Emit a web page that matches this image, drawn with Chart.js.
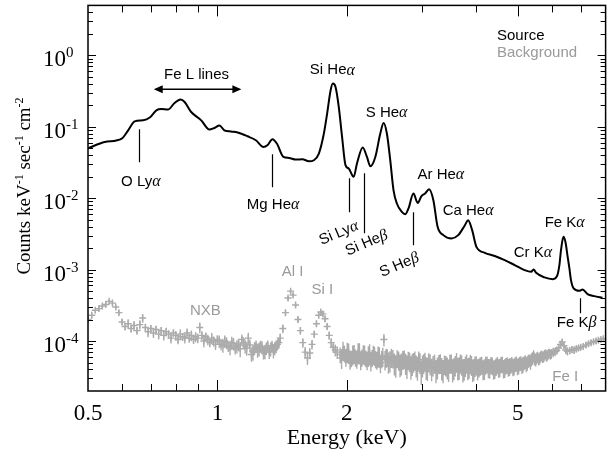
<!DOCTYPE html>
<html>
<head>
<meta charset="utf-8">
<script src="https://cdn.jsdelivr.net/npm/chart.js@4.4.0/dist/chart.umd.min.js"></script>
<style>
  html, body { margin: 0; padding: 0; background: #fff; }
  canvas { display: block; }
</style>
</head>
<body>
<canvas id="spectrum" width="611" height="451"></canvas>
<script>
// Source spectrum (keV, counts keV-1 s-1 cm-2)
const srcEnergy = [
  0.50, 0.547, 0.599, 0.620, 0.642, 0.672, 0.696, 0.721, 0.741, 0.767,
  0.795, 0.821, 0.839, 0.869, 0.917, 0.958, 0.984, 1.011, 1.038, 1.076,
  1.114, 1.175, 1.229, 1.280, 1.307, 1.343, 1.375, 1.424, 1.468, 1.521,
  1.576, 1.633, 1.677, 1.722, 1.769, 1.800, 1.834, 1.856, 1.883, 1.916,
  1.950, 1.986, 2.021, 2.075, 2.112, 2.178, 2.228, 2.269, 2.330, 2.393,
  2.436, 2.479, 2.524, 2.569, 2.615, 2.686, 2.735, 2.783, 2.858, 2.924,
  2.983, 3.042, 3.108, 3.180, 3.253, 3.354, 3.505, 3.633, 3.765, 3.831,
  3.914, 4.005, 4.188, 4.418, 4.659, 4.914, 5.183, 5.370, 5.439, 5.515,
  5.768, 6.029, 6.166, 6.246, 6.300, 6.382, 6.450, 6.529, 6.590, 6.646,
  6.742, 6.949, 7.072, 7.262, 7.527, 7.866
];
const srcCounts = [
  0.050, 0.0613, 0.0684, 0.0893, 0.119, 0.123, 0.1345, 0.170, 0.1774, 0.174,
  0.215, 0.240, 0.222, 0.161, 0.123, 0.0914, 0.0962, 0.104, 0.0893, 0.0857,
  0.083, 0.0736, 0.0648, 0.0522, 0.0551, 0.0669, 0.0582, 0.0378, 0.0366, 0.0348,
  0.0351, 0.0329, 0.034, 0.0422, 0.0804, 0.153, 0.324, 0.402, 0.360, 0.189,
  0.072, 0.029, 0.026, 0.0199, 0.0306, 0.0512, 0.0378, 0.028, 0.0378, 0.0804,
  0.113, 0.0804, 0.034, 0.0129, 0.00843, 0.00643, 0.00597, 0.00718, 0.01164, 0.00859,
  0.01067, 0.01164, 0.01336, 0.00938, 0.00397, 0.00304, 0.00273, 0.00304, 0.00419, 0.00492,
  0.00357, 0.00208, 0.00172, 0.00155, 0.00136, 0.00116, 0.000984, 0.000931, 0.001007, 0.000902,
  0.000778, 0.000736, 0.000811, 0.00116, 0.00187, 0.00288, 0.00245, 0.00151, 0.00104, 0.000713,
  0.000546, 0.000505, 0.000528, 0.000454, 0.000426, 0.000403
];

// Background (NXB) spectrum, counts in units of 1e-4, with relative errors
const bgEnergy = [
  0.50, 0.51, 0.52, 0.53, 0.54, 0.55, 0.56, 0.57, 0.58, 0.59, 0.60,
  0.61, 0.62, 0.63, 0.64, 0.65, 0.66, 0.67, 0.68, 0.69, 0.70,
  0.71, 0.72, 0.73, 0.74, 0.75, 0.76, 0.77, 0.78, 0.79, 0.80,
  0.81, 0.82, 0.83, 0.84, 0.85, 0.86, 0.87, 0.88, 0.89, 0.90,
  0.91, 0.92, 0.93, 0.94, 0.95, 0.96, 0.97, 0.98, 0.99, 1.00,
  1.02, 1.04, 1.06, 1.08, 1.10, 1.12, 1.14, 1.16, 1.18, 1.20,
  1.22, 1.24, 1.26, 1.28, 1.30, 1.32, 1.34, 1.36, 1.38, 1.40,
  1.42, 1.44, 1.46, 1.48, 1.50, 1.52, 1.54, 1.56, 1.58, 1.60,
  1.62, 1.64, 1.66, 1.68, 1.70, 1.72, 1.74, 1.76, 1.78, 1.80,
  1.82, 1.84, 1.86, 1.88, 1.90,
  1.93, 1.96, 1.99, 2.02, 2.05, 2.08, 2.11, 2.14, 2.17, 2.20,
  2.23, 2.26, 2.29, 2.32, 2.35, 2.38, 2.41, 2.44, 2.47, 2.50,
  2.54, 2.58, 2.62, 2.66, 2.70, 2.74, 2.78, 2.82, 2.86, 2.90,
  2.94, 2.98, 3.02, 3.06, 3.10,
  3.15, 3.20, 3.25, 3.30, 3.35, 3.40, 3.45, 3.50, 3.55, 3.60,
  3.65, 3.70, 3.75, 3.80, 3.85, 3.90, 3.95, 4.00,
  4.06, 4.12, 4.18, 4.24, 4.30, 4.36, 4.42, 4.48, 4.54, 4.60,
  4.66, 4.72, 4.78, 4.84, 4.90, 4.96, 5.02, 5.08, 5.14, 5.20,
  5.26, 5.32, 5.38, 5.44, 5.50, 5.56, 5.62, 5.68, 5.74, 5.80,
  5.86, 5.92, 5.98,
  6.04, 6.10, 6.16, 6.22, 6.28, 6.34, 6.40, 6.46, 6.52,
  6.60, 6.68, 6.76, 6.84, 6.92, 7.00,
  7.10, 7.20, 7.30, 7.40, 7.50, 7.60, 7.70, 7.80, 7.90,
  // interleaved bins
  1.01, 1.03, 1.05, 1.07, 1.09, 1.11, 1.13, 1.15, 1.17, 1.19,
  1.21, 1.23, 1.25, 1.27, 1.29, 1.31, 1.33, 1.35, 1.37, 1.39,
  1.945, 1.975, 2.005, 2.035, 2.065, 2.095, 2.125, 2.155, 2.185, 2.215,
  2.245, 2.275, 2.305, 2.335, 2.365, 2.395, 2.425, 2.455, 2.485,
  2.52, 2.56, 2.60, 2.64, 2.68, 2.72, 2.76, 2.80, 2.84, 2.88,
  2.92, 2.96, 3.00, 3.04, 3.08, 3.125,
  3.175, 3.225, 3.275, 3.325, 3.375, 3.425, 3.475, 3.525, 3.575, 3.625,
  3.675, 3.725, 3.775, 3.825, 3.875, 3.925, 3.975, 4.03,
  4.09, 4.15, 4.21, 4.27, 4.33, 4.39, 4.45, 4.51, 4.57, 4.63,
  4.69, 4.75, 4.81, 4.87, 4.93, 4.99, 5.05, 5.11, 5.17, 5.23,
  5.29, 5.35, 5.41, 5.47, 5.53, 5.59, 5.65, 5.71, 5.77, 5.83,
  5.89, 5.95
];
const bgCountsE4 = [
  2.0, 2.3, 2.7, 2.85, 3.1, 3.25, 3.6, 3.4, 3.0, 2.5, 1.85,
  1.6, 1.75, 1.5, 1.65, 1.4, 1.7, 2.1, 1.55, 1.35, 1.5,
  1.3, 1.45, 1.25, 1.4, 1.2, 1.35, 1.25, 1.1, 1.3, 1.2,
  1.05, 1.25, 1.15, 1.1, 1.3, 1.1, 1.2, 1.05, 1.15, 1.1,
  1.55, 1.2, 1.0, 1.15, 1.05, 0.95, 1.1, 1.0, 0.9, 1.05,
  0.9, 1.0, 0.85, 0.95, 0.8, 0.9, 1.05, 0.85, 1.1, 0.65,
  0.8, 0.75, 0.85, 0.7, 0.8, 0.72, 0.85, 0.8, 0.9, 1.1,
  1.5, 2.5, 4.0, 5.0, 4.4, 3.2, 2.0, 1.4, 0.95, 0.7,
  0.58, 0.68, 0.9, 1.25, 1.75, 2.3, 2.55, 2.4, 2.05, 1.6,
  1.2, 0.95, 0.82, 0.75, 0.7,
  0.65, 0.75, 0.6, 0.7, 0.58, 0.68, 0.57, 0.7, 0.6, 0.66,
  0.55, 0.68, 0.59, 0.64, 0.55, 0.62, 0.57, 1.05, 0.6, 0.52,
  0.6, 0.5, 0.58, 0.48, 0.56, 0.5, 0.55, 0.45, 0.52, 0.47,
  0.55, 0.38, 0.5, 0.44, 0.52,
  0.42, 0.5, 0.44, 0.5, 0.4, 0.47, 0.41, 0.5, 0.43, 0.52,
  0.44, 0.48, 0.42, 0.5, 0.44, 0.47, 0.42, 0.47,
  0.44, 0.47, 0.42, 0.48, 0.43, 0.46, 0.42, 0.47, 0.44, 0.48,
  0.43, 0.47, 0.45, 0.48, 0.45, 0.49, 0.46, 0.5, 0.48, 0.52,
  0.5, 0.54, 0.56, 0.63, 0.55, 0.6, 0.58, 0.63, 0.61, 0.66,
  0.64, 0.68, 0.67,
  0.7, 0.71, 0.74, 0.8, 0.9, 0.97, 0.86, 0.75, 0.72,
  0.74, 0.76, 0.75, 0.78, 0.8, 0.82,
  0.84, 0.88, 0.92, 0.95, 0.98, 1.0, 1.03, 1.05, 1.08,
  // interleaved bins
  1.0, 0.88, 0.95, 0.82, 0.92, 0.85, 0.78, 0.95, 0.8, 0.88,
  0.7, 0.85, 0.78, 0.82, 0.72, 0.85, 0.78, 0.74, 0.85, 0.95,
  0.58, 0.68, 0.72, 0.55, 0.66, 0.6, 0.7, 0.55, 0.67, 0.58,
  0.64, 0.52, 0.66, 0.57, 0.63, 0.5, 0.62, 0.56, 0.6,
  0.54, 0.58, 0.47, 0.55, 0.5, 0.57, 0.46, 0.53, 0.49, 0.55,
  0.44, 0.51, 0.47, 0.53, 0.43, 0.49,
  0.47, 0.4, 0.49, 0.43, 0.48, 0.44, 0.5, 0.41, 0.47, 0.43,
  0.5, 0.41, 0.46, 0.43, 0.49, 0.41, 0.46, 0.42,
  0.46, 0.41, 0.47, 0.43, 0.47, 0.41, 0.45, 0.43, 0.48, 0.42,
  0.46, 0.44, 0.46, 0.44, 0.48, 0.45, 0.49, 0.46, 0.5, 0.48,
  0.53, 0.51, 0.58, 0.57, 0.58, 0.56, 0.61, 0.6, 0.64, 0.62,
  0.66, 0.65
];
const bgErr = [
  0.08, 0.09, 0.08, 0.09, 0.08, 0.08, 0.07, 0.08, 0.08, 0.09, 0.10,
  0.12, 0.15, 0.13, 0.16, 0.12, 0.15, 0.14, 0.13, 0.16, 0.12,
  0.15, 0.13, 0.16, 0.12, 0.15, 0.14, 0.13, 0.16, 0.12, 0.15,
  0.14, 0.17, 0.13, 0.16, 0.15, 0.14, 0.17, 0.13, 0.16, 0.15,
  0.17, 0.14, 0.18, 0.15, 0.17, 0.14, 0.18, 0.16, 0.17, 0.15,
  0.18, 0.20, 0.17, 0.21, 0.19, 0.20, 0.18, 0.22, 0.19, 0.21,
  0.20, 0.22, 0.19, 0.21, 0.20, 0.22, 0.19, 0.21, 0.18, 0.16,
  0.14, 0.10, 0.08, 0.07, 0.07, 0.08, 0.10, 0.12, 0.15, 0.18,
  0.20, 0.18, 0.15, 0.12, 0.10, 0.09, 0.08, 0.09, 0.10, 0.11,
  0.13, 0.15, 0.17, 0.19, 0.20,
  0.25, 0.30, 0.27, 0.32, 0.26, 0.30, 0.28, 0.33, 0.27, 0.31,
  0.29, 0.33, 0.27, 0.30, 0.28, 0.32, 0.27, 0.20, 0.30, 0.33,
  0.30, 0.34, 0.28, 0.35, 0.30, 0.33, 0.29, 0.36, 0.31, 0.34,
  0.30, 0.36, 0.31, 0.35, 0.30,
  0.35, 0.30, 0.34, 0.31, 0.36, 0.32, 0.35, 0.30, 0.34, 0.31,
  0.35, 0.32, 0.34, 0.30, 0.33, 0.31, 0.34, 0.30,
  0.30, 0.28, 0.32, 0.27, 0.31, 0.28, 0.30, 0.27, 0.29, 0.26,
  0.29, 0.26, 0.28, 0.25, 0.27, 0.24, 0.26, 0.23, 0.25, 0.22,
  0.23, 0.20, 0.21, 0.18, 0.20, 0.18, 0.19, 0.17, 0.18, 0.16,
  0.17, 0.15, 0.16,
  0.15, 0.14, 0.13, 0.12, 0.11, 0.10, 0.11, 0.12, 0.13,
  0.12, 0.11, 0.12, 0.11, 0.10, 0.10,
  0.10, 0.09, 0.10, 0.09, 0.08, 0.09, 0.08, 0.08, 0.08,
  // interleaved bins
  0.20, 0.22, 0.19, 0.23, 0.20, 0.21, 0.24, 0.19, 0.22, 0.20,
  0.24, 0.20, 0.22, 0.21, 0.23, 0.20, 0.22, 0.23, 0.20, 0.18,
  0.30, 0.26, 0.32, 0.28, 0.31, 0.27, 0.33, 0.29, 0.30, 0.26,
  0.32, 0.28, 0.30, 0.27, 0.33, 0.29, 0.30, 0.31, 0.28,
  0.33, 0.29, 0.35, 0.30, 0.34, 0.29, 0.36, 0.31, 0.34, 0.30,
  0.37, 0.32, 0.34, 0.30, 0.36, 0.33,
  0.32, 0.36, 0.30, 0.35, 0.31, 0.34, 0.30, 0.36, 0.32, 0.35,
  0.30, 0.36, 0.32, 0.34, 0.30, 0.35, 0.32, 0.33,
  0.29, 0.31, 0.28, 0.30, 0.27, 0.30, 0.28, 0.29, 0.26, 0.29,
  0.26, 0.28, 0.25, 0.27, 0.24, 0.26, 0.23, 0.25, 0.22, 0.24,
  0.21, 0.22, 0.20, 0.20, 0.19, 0.19, 0.18, 0.18, 0.17, 0.17,
  0.16, 0.16
];

// tick labels
const xTickLabels = [0.5, 1, 2, 5];
const xMajorTicks = [1, 2, 5];
const xMinorTicks = [0.6, 0.7, 0.8, 0.9, 3, 4, 6, 7];
const yDecades = [0, -1, -2, -3, -4];

// line identification markers: energy, top and bottom of the marker (counts)
const markerEnergy = [0.656, 1.341, 2.021, 2.189, 2.858, 6.986];
const markerTop = [0.0923, 0.0412, 0.01905, 0.0224, 0.00637, 0.000399];
const markerBottom = [0.0319, 0.01425, 0.00637, 0.00324, 0.0022, 0.000246];

if (bgEnergy.length !== bgCountsE4.length || bgEnergy.length !== bgErr.length) {
  throw new Error('bg lengths ' + bgEnergy.length + ' ' + bgCountsE4.length + ' ' + bgErr.length);
}
if (srcEnergy.length !== srcCounts.length) {
  throw new Error('src lengths ' + srcEnergy.length + ' ' + srcCounts.length);
}

const BG_COLOR = '#ababab';
const LABEL_GRAY = '#9a9a9a';
const SERIF = '"Liberation Serif", "Times New Roman", serif';
const SANS = '15px "Liberation Sans", Arial, sans-serif';
const GREEK = 'italic 16px "Liberation Serif", "Times New Roman", serif';

// text labels, placed in data coordinates
const annotations = [
  { text: 'Fe L lines', e: 0.894, v: 0.525 },
  { text: 'O Lyα', e: 0.6635, v: 0.01674 },
  { text: 'Mg Heα', e: 1.348, v: 0.00798 },
  { text: 'Si Heα', e: 1.851, v: 0.617 },
  { text: 'S Heα', e: 2.475, v: 0.1545 },
  { text: 'Si Lyα', e: 1.916, v: 0.00324, angle: -23 },
  { text: 'Si Heβ', e: 2.225, v: 0.00235, angle: -23 },
  { text: 'S Heβ', e: 2.652, v: 0.001156, angle: -23 },
  { text: 'Ar Heα', e: 3.31, v: 0.021 },
  { text: 'Ca Heα', e: 3.83, v: 0.00658 },
  { text: 'Cr Kα', e: 5.418, v: 0.0017 },
  { text: 'Fe Kα', e: 6.427, v: 0.00452 },
  { text: 'Fe Kβ', e: 6.848, v: 0.000179 },
  { text: 'Source', e: 4.472, v: 1.844, align: 'left' },
  { text: 'Background', e: 4.472, v: 1.067, align: 'left', color: LABEL_GRAY },
  { text: 'NXB', e: 0.938, v: 2.63e-4, color: LABEL_GRAY },
  { text: 'Al I', e: 1.496, v: 9.23e-4, color: LABEL_GRAY },
  { text: 'Si I', e: 1.755, v: 5.17e-4, color: LABEL_GRAY },
  { text: 'Fe I', e: 6.442, v: 3.14e-5, color: LABEL_GRAY }
];

function drawLabel(ctx, text, x, y, align, angle, color) {
  // greek letters are set in an italic serif, the rest in sans
  const parts = [];
  for (const ch of text) {
    const greek = ch === 'α' || ch === 'β';
    if (parts.length && parts[parts.length - 1].greek === greek) parts[parts.length - 1].s += ch;
    else parts.push({ s: ch, greek: greek });
  }
  ctx.save();
  ctx.translate(x, y);
  if (angle) ctx.rotate(angle * Math.PI / 180);
  ctx.fillStyle = color || '#000';
  ctx.textBaseline = 'middle';
  ctx.textAlign = 'left';
  const widths = parts.map(p => { ctx.font = p.greek ? GREEK : SANS; return ctx.measureText(p.s).width; });
  const total = widths.reduce((a, b) => a + b, 0);
  let cx = align === 'left' ? 0 : -total / 2;
  parts.forEach((p, i) => {
    ctx.font = p.greek ? GREEK : SANS;
    ctx.fillText(p.s, cx, 0);
    cx += widths[i];
  });
  ctx.restore();
}

// draws base text followed by superscripts, returns total width
function drawSupText(ctx, parts, x, y, baseSize, supSize, rise, measureOnly) {
  let cx = x;
  for (const p of parts) {
    ctx.font = (p.sup ? supSize : baseSize) + 'px ' + SERIF;
    if (!measureOnly) ctx.fillText(p.s, cx, p.sup ? y - rise : y);
    cx += ctx.measureText(p.s).width;
  }
  return cx - x;
}

const errorBars = {
  id: 'errorBars',
  beforeDatasetsDraw(chart) {
    const { ctx, chartArea: a, scales: { x, y } } = chart;
    ctx.save();
    ctx.beginPath();
    ctx.rect(a.left, a.top, a.right - a.left, a.bottom - a.top);
    ctx.clip();
    ctx.strokeStyle = BG_COLOR;
    ctx.lineWidth = 1.4;
    ctx.beginPath();
    bgEnergy.forEach((e, i) => {
      const v = bgCountsE4[i] * 1e-4;
      const px = x.getPixelForValue(e);
      ctx.moveTo(px, y.getPixelForValue(v * (1 + bgErr[i])));
      ctx.lineTo(px, y.getPixelForValue(v * (1 - bgErr[i])));
    });
    ctx.stroke();
    ctx.restore();
  }
};

const frame = {
  id: 'frame',
  afterDraw(chart) {
    const { ctx, chartArea: a, scales: { x, y } } = chart;
    ctx.save();
    ctx.strokeStyle = '#000';

    // axes box
    ctx.lineWidth = 1.5;
    ctx.strokeRect(a.left, a.top, a.right - a.left, a.bottom - a.top);

    // inward ticks on all four sides
    ctx.lineWidth = 1;
    ctx.beginPath();
    const xTick = (v, len) => {
      const px = Math.round(x.getPixelForValue(v)) + 0.5;
      ctx.moveTo(px, a.bottom); ctx.lineTo(px, a.bottom - len);
      ctx.moveTo(px, a.top); ctx.lineTo(px, a.top + len);
    };
    const yTick = (v, len) => {
      const py = Math.round(y.getPixelForValue(v)) + 0.5;
      ctx.moveTo(a.left, py); ctx.lineTo(a.left + len, py);
      ctx.moveTo(a.right, py); ctx.lineTo(a.right - len, py);
    };
    xMajorTicks.forEach(v => xTick(v, 11));
    xMinorTicks.forEach(v => xTick(v, 7));
    for (let d = -5; d <= 0; d++) {
      for (let m = 1; m <= 9; m++) {
        const v = m * Math.pow(10, d);
        if (v <= y.min || v >= y.max) continue;
        yTick(v, m === 1 ? 8 : 5);
      }
    }
    ctx.stroke();

    // tick labels
    ctx.fillStyle = '#000';
    ctx.textBaseline = 'alphabetic';
    ctx.textAlign = 'center';
    ctx.font = '23px ' + SERIF;
    xTickLabels.forEach(v => {
      ctx.fillText(String(v), x.getPixelForValue(v), a.bottom + 29);
    });
    ctx.textAlign = 'left';
    yDecades.forEach(d => {
      const py = y.getPixelForValue(Math.pow(10, d));
      drawSupText(ctx, [{ s: '10' }, { s: String(d), sup: true }], 43, py + 11, 23, 15, 9);
    });

    // axis titles
    ctx.textAlign = 'center';
    ctx.font = '22px ' + SERIF;
    ctx.fillText('Energy (keV)', (a.left + a.right) / 2, 444);

    ctx.save();
    ctx.translate(30, 186);
    ctx.rotate(-Math.PI / 2);
    ctx.textAlign = 'left';
    const titleParts = [
      { s: 'Counts keV' }, { s: '-1', sup: true },
      { s: ' sec' }, { s: '-1', sup: true },
      { s: ' cm' }, { s: '-2', sup: true }
    ];
    const w = drawSupText(ctx, titleParts, 0, 0, 19, 12, 7, true);
    drawSupText(ctx, titleParts, -w / 2, 0, 19, 12, 7);
    ctx.restore();

    // line markers
    ctx.lineWidth = 1.2;
    ctx.beginPath();
    markerEnergy.forEach((e, i) => {
      const px = Math.round(x.getPixelForValue(e)) + 0.5;
      ctx.moveTo(px, y.getPixelForValue(markerTop[i]));
      ctx.lineTo(px, y.getPixelForValue(markerBottom[i]));
    });
    ctx.stroke();

    // Fe L double arrow
    const ay = y.getPixelForValue(0.3345);
    const ax1 = x.getPixelForValue(0.711);
    const ax2 = x.getPixelForValue(1.137);
    ctx.lineWidth = 1.5;
    ctx.beginPath();
    ctx.moveTo(ax1 + 6, ay); ctx.lineTo(ax2 - 6, ay);
    ctx.stroke();
    ctx.beginPath();
    ctx.moveTo(ax1, ay); ctx.lineTo(ax1 + 9, ay - 4); ctx.lineTo(ax1 + 9, ay + 4); ctx.closePath();
    ctx.moveTo(ax2, ay); ctx.lineTo(ax2 - 9, ay - 4); ctx.lineTo(ax2 - 9, ay + 4); ctx.closePath();
    ctx.fill();

    annotations.forEach(an => {
      drawLabel(ctx, an.text, x.getPixelForValue(an.e), y.getPixelForValue(an.v),
        an.align, an.angle, an.color);
    });
    ctx.restore();
  }
};

new Chart(document.getElementById('spectrum'), {
  type: 'scatter',
  data: {
    datasets: [
      {
        label: 'Background',
        data: bgEnergy.map((e, i) => ({ x: e, y: bgCountsE4[i] * 1e-4 })),
        showLine: false,
        pointStyle: 'cross',
        pointRadius: 3.5,
        borderColor: BG_COLOR,
        borderWidth: 1.4
      },
      {
        label: 'Source',
        data: srcEnergy.map((e, i) => ({ x: e, y: srcCounts[i] })),
        showLine: true,
        borderColor: '#000',
        borderWidth: 2,
        pointRadius: 0,
        cubicInterpolationMode: 'monotone'
      }
    ]
  },
  options: {
    responsive: false,
    animation: false,
    layout: { padding: { left: 0, right: 3, top: 5, bottom: 0 } },
    plugins: { legend: { display: false }, tooltip: { enabled: false } },
    scales: {
      x: {
        type: 'logarithmic', min: 0.5, max: 8,
        grid: { display: false }, border: { display: false },
        ticks: { display: false },
        afterFit: s => { s.height = 60; }
      },
      y: {
        type: 'logarithmic', min: 2e-5, max: 5,
        grid: { display: false }, border: { display: false },
        ticks: { display: false },
        afterFit: s => { s.width = 88; }
      }
    }
  },
  plugins: [errorBars, frame]
});
</script>
</body>
</html>
